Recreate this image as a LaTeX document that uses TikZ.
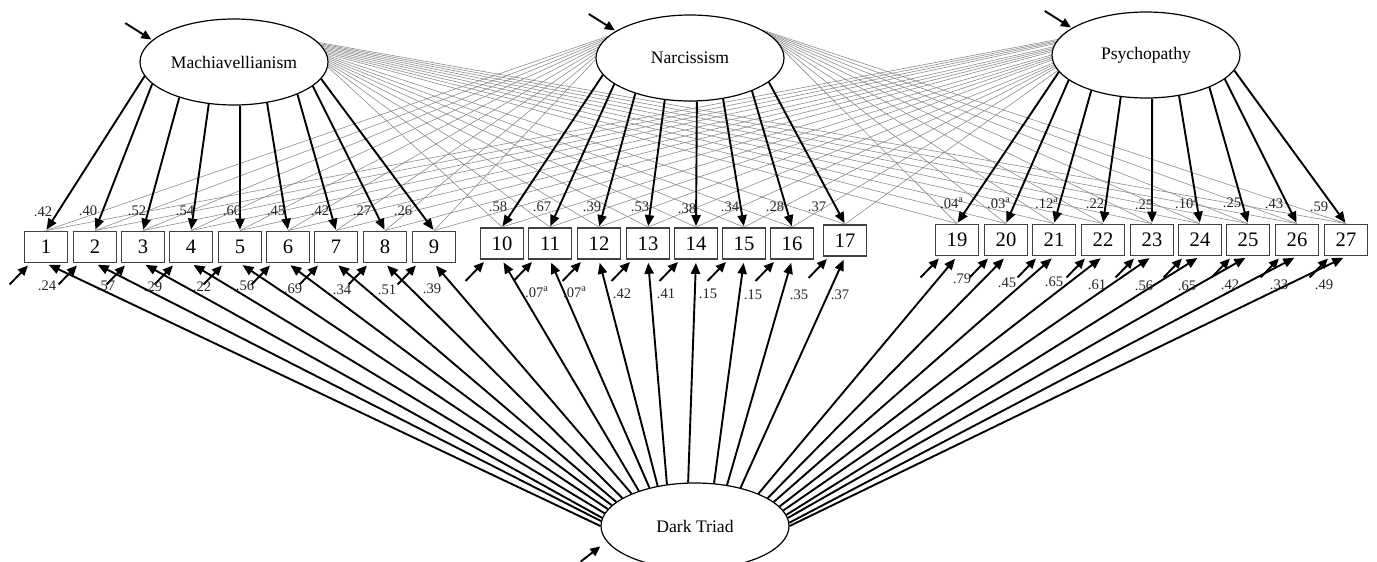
\documentclass[tikz,border=0pt]{standalone}
\usepackage{fontspec}
\setmainfont{Liberation Serif}
\usetikzlibrary{arrows.meta,calc,shapes.geometric}
\pgfdeclarelayer{bg}
\pgfsetlayers{bg,main}
\begin{document}
\begin{tikzpicture}[x=0.5pt,y=-0.5pt,
  lat/.style={ellipse,draw,line width=0.6pt,fill=white,minimum width=94pt,minimum height=43pt,inner sep=0pt,font=\fontsize{8.8}{10}\selectfont},
  item/.style={rectangle,draw=black!75,line width=0.9pt,fill=white,minimum width=21.5pt,minimum height=15.5pt,inner sep=0pt,font=\fontsize{10.3}{12}\selectfont},
  load/.style={line width=0.95pt,-{Triangle[length=5.5pt,width=4.6pt]},shorten >=0.5pt},
  err/.style={line width=0.95pt,-{Triangle[length=5pt,width=4.4pt]},shorten >=1.5pt},
  cross/.style={line width=0.3pt,black!45},
  lbl/.style={font=\fontsize{7.3}{8}\selectfont,inner sep=0pt,text=black!85}
]
\useasboundingbox (0,0) rectangle (1377,562);
\clip (0,0) rectangle (1377,562);
\node[lat] (mach) at (234,62) {Machiavellianism};
\node[lat] (narc) at (690,58) {Narcissism};
\node[lat] (psy) at (1146,55) {Psychopathy};
\node[lat] (dt) at (695,526) {Dark Triad};
% items
\foreach \i/\x in {1/46,2/95,3/143,4/191,5/240,6/288,7/336,8/385,9/434}
  \node[item] (b\i) at (\x,247) {\i};
\foreach \i/\x in {10/502,11/550,12/599,13/648,14/696,15/744,16/792}
  \node[item] (b\i) at (\x,243.5) {\i};
\node[item] (b17) at (845,240.5) {17};
\foreach \i/\x in {19/957,20/1006,21/1054,22/1103,23/1152,24/1200,25/1248,26/1297,27/1346}
  \node[item] (b\i) at (\x,240) {\i};
% cross loadings
\begin{pgfonlayer}{bg}
\foreach \t [count=\k] in {10,11,12,13,14,15,16,17,19,20,21,22,23,24,25,26,27} {
  \pgfmathtruncatemacro\a{mod(357+(\k-1),360)}
  \draw[cross] (mach.\a) -- (b\t.north);
}
\foreach \t [count=\k] in {1,2,3,4,5,6,7,8,9} {
  \pgfmathtruncatemacro\a{165+(\k-1)*2}
  \draw[cross] (narc.\a) -- (b\t.north);
}
\foreach \t [count=\k] in {19,20,21,22,23,24,25,26,27} {
  \pgfmathtruncatemacro\a{5+(\k-1)*2}
  \draw[cross] (narc.\a) -- (b\t.north);
}
\foreach \t [count=\k] in {1,2,3,4,5,6,7,8,9,10,11,12,13,14,15,16,17} {
  \pgfmathtruncatemacro\a{170+(\k-1)*1.25}
  \draw[cross] (psy.\a) -- (b\t.north);
}
\end{pgfonlayer}
% loadings
\foreach \i/\a in {1/189,2/195,3/213,4/239,5/278,6/309,7/333,8/343,9/349}
  \draw[load] (mach.\a) -- (b\i.north);
\foreach \i/\a in {10/191,11/199,12/213,13/239,14/279,15/309,16/332,17/343}
  \draw[load] (narc.\a) -- (b\i.north);
\foreach \i/\a in {19/191,20/198,21/213,22/239,23/278,24/309,25/333,26/343,27/350}
  \draw[load] (psy.\a) -- (b\i.north);
% dark triad
\foreach \i/\a in {1/180,2/177,3/175,4/172,5/169,6/166,7/163,8/159,9/153,10/148,11/140,12/133,13/124,14/99,15/66,16/52,17/40,19/27,20/21,21/17,22/13,23/10,24/7,25/5,26/2,27/0}
  \draw[load,shorten >=1.5pt] (dt.\a) -- (b\i.south);
% error terms
\foreach \i in {1,2,3,4,5,6,7,8,9,10,11,12,13,14,15,16,17,19,20,21,22,23,24,25,26,27} {
  \coordinate (e\i) at ($(b\i.south west)+(-14,21)$);
  \draw[err] (e\i) -- (b\i);
}
% latent disturbances
\coordinate (dm) at ($(mach.165)+(-27,-17)$);
\draw[err,shorten >=0.5pt] (dm) -- (mach.165);
\coordinate (dn) at ($(narc.160)+(-27,-17)$);
\draw[err,shorten >=0.5pt] (dn) -- (narc.160);
\coordinate (dp) at ($(psy.160)+(-27,-17)$);
\draw[err,shorten >=0.5pt] (dp) -- (psy.160);
\coordinate (dd) at ($(dt.190)+(-26,20)$);
\draw[err,shorten >=4pt] (dd) -- (dt.190);
% upper labels
\foreach \n/\x/\y/\t in {u1/43/212/.42,u2/88/211/.40,u3/137/211/.52,u4/185/211/.54,u5/232/211/.60,u6/276/211/.45,u7/320/211/.42,u8/362/211/.27,u9/403/211/.26,
  u10/498/207/.58,u11/542/207/.67,u12/592/207/.39,u13/640/207/.53,u14/687/209/.38,u15/730/207/.34,u16/775/207/.28,u17/817/207/.37,
  u19/952/203/.04\textsuperscript{a},u20/999/203/.03\textsuperscript{a},u21/1047/203/.12\textsuperscript{a},u22/1095/204/.22,u23/1144/205/.25,u24/1187/203/.10\textsuperscript{a},u25/1232/203/.25,u26/1274/204/.43,u27/1319/207/.59}
  \node[lbl] (\n) at (\x,\y) {\t};
% lower labels
\foreach \n/\x/\y/\t in {d1/47/286/.24,d2/106/286/.57,d3/153/287/.29,d4/202/287/.22,d5/245/286/.56,d6/293/289/.69,d7/342/290/.34,d8/387/290/.51,d9/432/289/.39,
  d10/537/292/.07\textsuperscript{a},d11/575/292/.07\textsuperscript{a},d12/622/294/.42,d13/666/294/.41,d14/708/294/.15,d15/753/295/.15,d16/799/295/.35,d17/840/295/.37,
  d19/962/279/.79,d20/1007/283/.45,d21/1054/282/.65,d22/1097/285/.61,d23/1144/286/.56,d24/1187/286/.65,d25/1230/285/.42,d26/1279/285/.33,d27/1324/285/.49}
  \node[lbl] (\n) at (\x,\y) {\t};
\end{tikzpicture}
\end{document}
